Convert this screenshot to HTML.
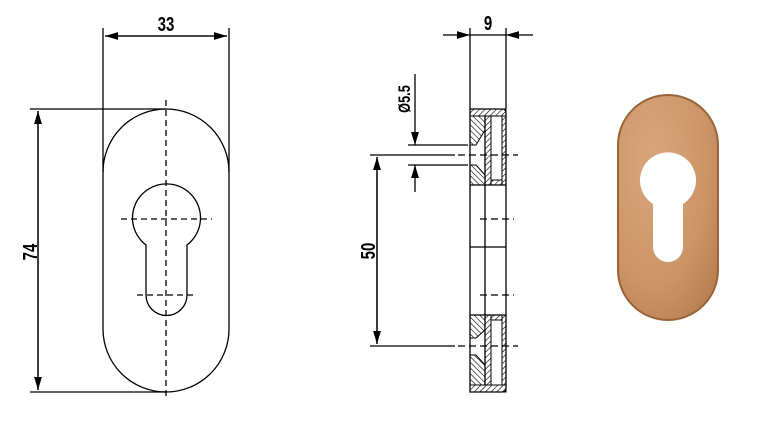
<!DOCTYPE html>
<html><head><style>html,body{margin:0;padding:0;background:#fff}svg{display:block}</style></head><body>
<svg width="775" height="421" viewBox="0 0 775 421" xmlns="http://www.w3.org/2000/svg">
<defs>
<pattern id="h" width="4" height="4" patternUnits="userSpaceOnUse" patternTransform="rotate(45)"><line x1="0" y1="0" x2="0" y2="4" stroke="#000" stroke-width="1.2"/></pattern>
<pattern id="h2" width="4" height="4" patternUnits="userSpaceOnUse" patternTransform="rotate(-45)"><line x1="0" y1="0" x2="0" y2="4" stroke="#000" stroke-width="1.2"/></pattern>
<marker id="a" markerWidth="10" markerHeight="6" refX="10" refY="3" orient="auto"><path d="M0,0 L10,3 L0,6z" fill="#000"/></marker>
<radialGradient id="g" cx="0.35" cy="0.3" r="0.9"><stop offset="0" stop-color="#d9a67c"/><stop offset="0.6" stop-color="#cc9568"/><stop offset="1" stop-color="#b27a4c"/></radialGradient>
</defs>
<g stroke="#000" stroke-width="1.3" fill="none">
<path d="M103,172 A63,63 0 0 1 229,172 L229,329 A63,63 0 0 1 103,329 Z"/>
<line x1="103" y1="28" x2="103" y2="172"/><line x1="229" y1="28" x2="229" y2="172"/>
<line x1="30" y1="109" x2="166" y2="109"/><line x1="30" y1="392" x2="166" y2="392"/>
<line x1="38" y1="111" x2="38" y2="390" marker-end="url(#a)"/>
<line x1="38" y1="390" x2="38" y2="111" marker-end="url(#a)"/>
<line x1="105" y1="36" x2="227" y2="36" marker-end="url(#a)"/>
<line x1="227" y1="36" x2="105" y2="36" marker-end="url(#a)"/>
<path d="M146,245 A34,34 0 1 1 187,245 L187,295 A20.5,20.5 0 0 1 146,295 Z"/>
<g stroke-dasharray="6,4"><line x1="166" y1="100" x2="166" y2="396"/><line x1="121" y1="219" x2="212" y2="219"/><line x1="137" y1="295" x2="195" y2="295"/></g>
<line x1="470" y1="28" x2="470" y2="109"/><line x1="506" y1="28" x2="506" y2="109"/>
<line x1="443" y1="35" x2="470" y2="35" marker-end="url(#a)"/>
<line x1="533" y1="35" x2="506" y2="35" marker-end="url(#a)"/>
<line x1="470" y1="35" x2="506" y2="35"/>
<line x1="415" y1="74" x2="415" y2="145" marker-end="url(#a)"/>
<line x1="415" y1="192" x2="415" y2="165" marker-end="url(#a)"/>
<line x1="408" y1="145" x2="468" y2="145"/><line x1="408" y1="165" x2="468" y2="165"/>
<line x1="370" y1="155" x2="455" y2="155"/><line x1="370" y1="346" x2="455" y2="346"/>
<line x1="377" y1="157" x2="377" y2="344" marker-end="url(#a)"/>
<line x1="377" y1="344" x2="377" y2="157" marker-end="url(#a)"/>
<g stroke-dasharray="7,4"><line x1="458" y1="155" x2="518" y2="155"/><line x1="458" y1="346" x2="518" y2="346"/><line x1="480" y1="219" x2="514" y2="219"/><line x1="480" y1="295" x2="514" y2="295"/></g>
<path d="M470,109 L502,109 Q506,109 506,113 L506,388 Q506,392 502,392 L470,392 Z"/>
<line x1="485" y1="116" x2="485" y2="385"/>
<line x1="470" y1="185" x2="506" y2="185"/><line x1="470" y1="247" x2="506" y2="247"/><line x1="470" y1="315" x2="506" y2="315"/>
<rect x="470" y="109" width="36" height="7" fill="url(#h)" stroke-width="1"/>
<rect x="470" y="385" width="36" height="7" fill="url(#h)" stroke-width="1"/>
<rect x="502" y="116" width="4" height="69" fill="url(#h)" stroke-width="1"/>
<rect x="502" y="315" width="4" height="70" fill="url(#h)" stroke-width="1"/>
<rect x="485" y="116" width="6" height="69" fill="url(#h)" stroke-width="1"/>
<rect x="485" y="315" width="6" height="70" fill="url(#h)" stroke-width="1"/>
<rect x="491" y="180" width="11" height="5" fill="url(#h)" stroke-width="1"/>
<rect x="491" y="315" width="11" height="5" fill="url(#h)" stroke-width="1"/>
<path d="M470,116 L485,116 L485,130 L476,145 L470,145 Z" fill="url(#h2)" stroke-width="1"/>
<path d="M470,165 L476,165 L485,175 L485,185 L470,185 Z" fill="url(#h2)" stroke-width="1"/>
<path d="M470,315 L485,315 L485,330 L476,338 L470,338 Z" fill="url(#h2)" stroke-width="1"/>
<path d="M470,355 L476,355 L485,365 L485,385 L470,385 Z" fill="url(#h2)" stroke-width="1"/>
</g>
<g font-family="Liberation Sans, sans-serif" font-weight="bold" font-size="20" fill="#000" text-anchor="middle">
<text transform="translate(166,31) scale(0.75,1)">33</text>
<text transform="translate(488,30) scale(0.75,1)">9</text>
<text transform="translate(37,252) rotate(-90) scale(0.75,1)">74</text>
<text transform="translate(375,251) rotate(-90) scale(0.75,1)">50</text>
<text transform="translate(410,99) rotate(-90) scale(0.75,1)" font-size="17">Ø5.5</text>
</g>
<path d="M618,145 A50,50 0 0 1 718,145 L718,270 A50,50 0 0 1 618,270 Z" fill="url(#g)" stroke="#9a6438" stroke-width="2"/>
<path d="M653,204 A28,28 0 1 1 683,204 L683,247 A15,15 0 0 1 653,247 Z" fill="#fff"/>
</svg>
</body></html>
